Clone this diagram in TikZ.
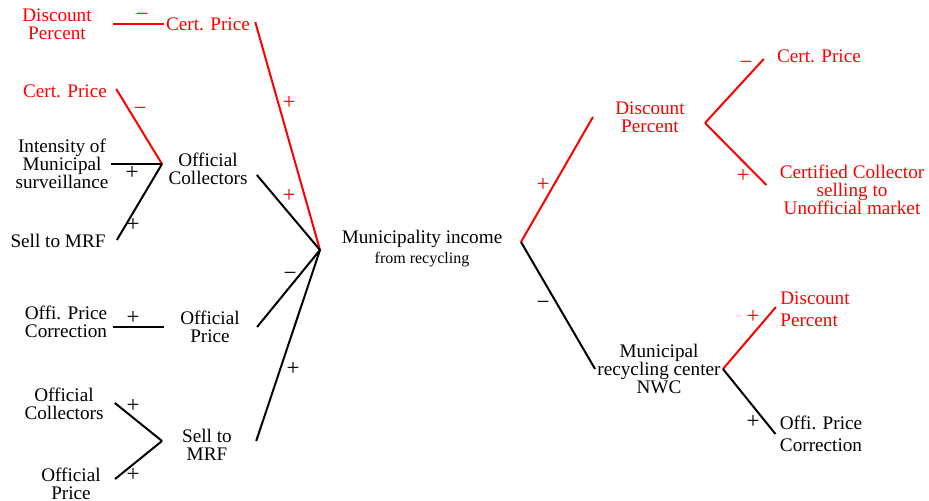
\documentclass[tikz,border=0pt]{standalone}
\usepackage{fontspec}
\usepackage{tikz}
\setmainfont{Liberation Serif}
\newfontfamily\cldfont{Liberation Serif}
\definecolor{cldred}{RGB}{255, 0, 0}

\begin{document}
\begin{tikzpicture}[x=0.5pt, y=-0.5pt,
  lbl/.style={align=center, inner sep=1pt, font=\cldfont\fontsize{9.6}{9}\selectfont},
  sgn/.style={inner sep=0pt, font=\cldfont\fontsize{11.5}{9}\selectfont},
  link/.style={line width=1pt},
  redlink/.style={link, cldred}]
\useasboundingbox (0,0) rectangle (929,501);

% Uses tree (left): what drives the municipality income
\coordinate (hubA) at (320,250);
\coordinate (hubB) at (162,164);
\coordinate (hubD) at (162,441);

\node[lbl] (income) at (422,249) {Municipality income\\[1pt]{\fontsize{8}{9}\selectfont from recycling}};

\node[lbl, cldred] (dpA) at (57,24) {Discount\\Percent};
\node[lbl, cldred] (cpA) at (208,24) {Cert. Price};
\node[lbl, cldred] (cpB) at (65,91) {Cert. Price};
\node[lbl] (imsB) at (62,164) {Intensity of\\Municipal\\surveillance};
\node[lbl] (smB) at (58,241) {Sell to MRF};
\node[lbl] (ocA) at (208,169) {Official\\Collectors};
\node[lbl] (opcC) at (66,322) {Offi. Price\\Correction};
\node[lbl] (opA) at (210,327) {Official\\Price};
\node[lbl] (ocD) at (64,404) {Official\\Collectors};
\node[lbl] (opD) at (71,484) {Official\\Price};
\node[lbl] (smA) at (207,445) {Sell to\\MRF};

\draw[redlink, shorten <=9.5pt] (dpA.east) -- (cpA.west);
\draw[redlink] (cpA.east) ++(3,-2) -- (hubA);
\draw[redlink] (cpB.east) ++(7,-2) -- (hubB);
\draw[link] (imsB.east) -- (hubB);
\draw[link] (smB.east) ++(9,-1) -- (hubB);
\draw[link] (ocA.east) ++(7,6) -- (hubA);
\draw[link] ([xshift=1.5pt,yshift=-2.5pt]opcC.east) -- ([xshift=-7pt]opA.west);
\draw[link] (opA.east) ++(15,0) -- (hubA);
\draw[link] (smA.east) ++(22,-4) -- (hubA);
\draw[link] (ocD.east) ++(9,-1) -- (hubD);
\draw[link] (opD.east) ++(12,-5) -- (hubD);

\node[sgn, cldred] (sA1) at (142,17) {−};
\node[sgn, cldred] (sA2) at (289,103) {+};
\node[sgn, cldred] (sA3) at (289,196) {+};
\node[sgn] (sA4) at (290,276) {−};
\node[sgn] (sA5) at (293,369) {+};
\node[sgn, cldred] (sB1) at (140,111) {−};
\node[sgn] (sB2) at (132,173) {+};
\node[sgn] (sB3) at (133,225) {+};
\node[sgn] (sC1) at (133,318) {+};
\node[sgn] (sD1) at (133,406) {+};
\node[sgn] (sD2) at (133,475) {+};

% Causes tree (right): what the income drives
\coordinate (hubR) at (521,242);
\coordinate (hubU) at (705,123);

\node[lbl, cldred] (dpR) at (650,117) {Discount\\Percent};
\node[lbl] (nwc) at (659,369) {Municipal\\recycling center\\NWC};
\node[lbl, cldred] (cpR) at (819,56) {Cert. Price};
\node[lbl, cldred] (ccR) at (852,190) {Certified Collector\\selling to\\Unofficial market};
\node[lbl, cldred, align=left] (dpN) at (815,309) {Discount\\[2pt]Percent};
\node[lbl] (opcN) at (821,434) {Offi. Price\\[2pt]Correction};

\draw[redlink] (hubR) -- ([xshift=-10pt]dpR.west);
\draw[link] (hubR) -- (nwc.west);
\draw[redlink] (hubU) -- ([xshift=-5.5pt,yshift=-1.5pt]cpR.west);
\draw[redlink] (hubU) -- ([xshift=-5.5pt,yshift=2.5pt]ccR.west);
\draw[redlink] (nwc.east) -- ([xshift=-1pt,yshift=1pt]dpN.west);
\draw[link] (nwc.east) -- ([xshift=-1pt]opcN.west);

\node[sgn, cldred] (sR1) at (543,185) {+};
\node[sgn] (sR2) at (543,305) {−};
\node[sgn, cldred] (sU1) at (746,65) {−};
\node[sgn, cldred] (sU2) at (743,176) {+};
\node[sgn, cldred] (sN1) at (753,317) {+};
\node[sgn] (sN2) at (753,422) {+};
\end{tikzpicture}
\end{document}
